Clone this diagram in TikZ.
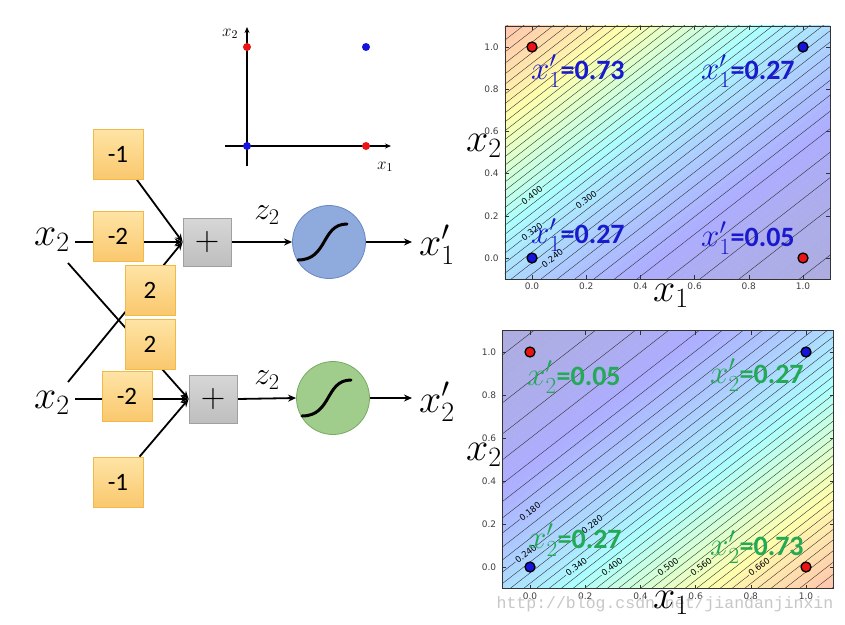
\RequirePackage{fix-cm}
\documentclass[tikz,border=0pt]{standalone}
\usepackage{fontspec}
\newfontfamily\carlito{Carlito}
\newfontfamily\dejavu{DejaVu Sans}
\newfontfamily\monof{Liberation Mono}
\usetikzlibrary{arrows.meta,backgrounds}

\definecolor{qblue}{RGB}{25,25,205}
\definecolor{qgreen}{RGB}{35,170,85}
\definecolor{boxtop}{RGB}{254,228,165}
\definecolor{boxbot}{RGB}{250,200,110}
\definecolor{boxedge}{RGB}{242,185,70}
\definecolor{plustop}{RGB}{215,215,215}
\definecolor{plusbot}{RGB}{190,190,190}
\definecolor{plusedge}{RGB}{160,160,160}
\definecolor{sigblue}{RGB}{143,170,220}
\definecolor{sigblueedge}{RGB}{105,135,195}
\definecolor{siggreen}{RGB}{160,205,140}
\definecolor{siggreenedge}{RGB}{120,170,100}
\definecolor{dotred}{RGB}{235,20,20}
\definecolor{dotblue}{RGB}{20,20,220}

\newcommand\setjet[2]{%
  \pgfmathsetmacro\jt{max(0,min(1,#1))}%
  \pgfmathsetmacro\cR{1-0.32*(1-max(0,min(1,1.5-abs(4*\jt-3))))}%
  \pgfmathsetmacro\cG{1-0.32*(1-max(0,min(1,1.5-abs(4*\jt-2))))}%
  \pgfmathsetmacro\cB{1-0.32*(1-max(0,min(1,1.5-abs(4*\jt-1))))}%
  \definecolor{#2}{rgb}{\cR,\cG,\cB}}

\newcommand\jetplot[2]{%
  \begin{scope}
    \clip (-0.1,-0.1) rectangle (1.1,1.1);
    \foreach \k in {0,...,79}{%
      \pgfmathsetmacro\ua{-1.3+\k*0.0325}%
      \pgfmathsetmacro\um{\ua+0.01625}%
      \pgfmathsetmacro\vv{1/(1+exp(1-2*(\um)))}%
      \setjet{\vv}{stripc}%
      \pgfmathsetmacro\yaL{-2+(#1)*(\ua)}%
      \pgfmathsetmacro\yaR{3+(#1)*(\ua)}%
      \pgfmathsetmacro\ybL{-2+(#1)*(\ua+0.034)}%
      \pgfmathsetmacro\ybR{3+(#1)*(\ua+0.034)}%
      \fill[stripc] (-2,\yaL) -- (3,\yaR) -- (3,\ybR) -- (-2,\ybL) -- cycle;
    }
    \foreach \i in {2,...,40}{%
      \pgfmathsetmacro\lu{(#1)*(ln(\i/(50-\i))+1)/2}%
      \pgfmathsetmacro\lL{-2+\lu}%
      \pgfmathsetmacro\lR{3+\lu}%
      \draw[cline] (-2,\lL) -- (3,\lR);
    }
  \end{scope}
  \draw[pframe] (-0.1,-0.1) rectangle (1.1,1.1);
  \foreach \i/\l in {0/0.0,1/0.2,2/0.4,3/0.6,4/0.8,5/1.0}{%
    \draw[ptick] (\i*0.2,-0.1) -- ++(0pt,4pt);
    \draw[ptick] (\i*0.2,1.1) -- ++(0pt,-4pt);
    \draw[ptick] (-0.1,\i*0.2) -- ++(4pt,0pt);
    \draw[ptick] (1.1,\i*0.2) -- ++(-4pt,0pt);
    \node[tickl, anchor=north, yshift=-4pt] (#2tx\i) at (\i*0.2,-0.1) {\l};
    \node[tickl, anchor=east, xshift=-6pt] (#2ty\i) at (-0.1,\i*0.2) {\l};
  }
  \node[dot, fill=dotred] (#2d01) at (0,1) {};
  \node[dot, fill=dotblue] (#2d11) at (1,1) {};
  \node[dot, fill=dotblue] (#2d00) at (0,0) {};
  \node[dot, fill=dotred] (#2d10) at (1,0) {};
}

\begin{document}
\begin{tikzpicture}[x=1pt,y=-1pt,
  wbox/.style={draw=boxedge, line width=0.8pt, top color=boxtop, bottom color=boxbot,
    minimum size=50pt, inner sep=0pt, font=\fontsize{25}{25}\selectfont\carlito},
  plusbox/.style={draw=plusedge, line width=0.8pt, top color=plustop, bottom color=plusbot,
    minimum size=48pt, inner sep=0pt, font=\fontsize{34}{34}\selectfont},
  neuron/.style={circle, minimum size=73pt, inner sep=0pt, line width=0.8pt},
  conn/.style={line width=1.8pt},
  arr/.style={conn, -{Stealth[length=8pt,width=7pt]}},
  biglab/.style={inner sep=0pt, font=\fontsize{40}{40}\selectfont},
  zlab/.style={inner sep=0pt, font=\fontsize{32}{32}\selectfont},
  sig/.style={line width=3pt, line cap=round},
  axisarr/.style={line width=1.3pt, -{Stealth[length=6pt,width=5pt]}},
  smalldot/.style={circle, inner sep=0pt, minimum size=8pt},
  dot/.style={circle, draw=black, line width=1.3pt, inner sep=0pt, minimum size=10pt},
  cline/.style={line width=0.35pt, black!85},
  pframe/.style={line width=0.7pt, black!80},
  ptick/.style={line width=0.5pt, black!80},
  tickl/.style={inner sep=0pt, font=\dejavu\fontsize{9}{9}\selectfont, text=black!75},
  clab/.style={inner sep=0.8pt, rotate=38, font=\dejavu\fontsize{8.5}{9}\selectfont},
  qlab/.style={inner sep=0pt, anchor=west},
]
\useasboundingbox (0,0) rectangle (845,624);
\begin{pgfonlayer}{background}
\fill[white] (0,0) rectangle (845,624);
\end{pgfonlayer}

% ---------- small scatter inset ----------
\coordinate (xa0) at (225,146);
\coordinate (xa1) at (391,146);
\coordinate (ya0) at (247,166);
\coordinate (ya1) at (247,27);
\draw[axisarr] (xa0) -- (xa1);
\draw[axisarr] (ya0) -- (ya1);
\node[smalldot, fill=dotred] (s01) at (247,47) {};
\node[smalldot, fill=dotblue] (s11) at (366,47) {};
\node[smalldot, fill=dotblue] (s00) at (247,146) {};
\node[smalldot, fill=dotred] (s10) at (366,146) {};
\node[inner sep=0pt, font=\fontsize{17}{17}\selectfont] (sx2) at (230,34) {$x_2$};
\node[inner sep=0pt, font=\fontsize{17}{17}\selectfont] (sx1) at (385,167) {$x_1$};

% ---------- network ----------
\node[biglab] (x2a) at (52,240) {$x_2$};
\node[biglab] (x2b) at (52,403) {$x_2$};
\coordinate (x2aD) at (68,263);
\coordinate (x2bD) at (68,382);

\node[wbox] (wA1) at (118,154) {-1};
\node[wbox] (wA2) at (118,236) {-2};
\node[wbox] (wA3) at (150,290) {2};
\node[wbox] (wB3) at (150,344) {2};
\node[wbox] (wB2) at (127,396) {-2};
\node[wbox] (wB1) at (118,482) {-1};

\node[plusbox] (plusA) at (207,242) {$+$};
\node[plusbox] (plusB) at (213,399) {$+$};

\node[neuron, draw=sigblueedge, fill=sigblue] (sigA) at (329,242) {};
\node[neuron, draw=siggreenedge, fill=siggreen] (sigB) at (333,398) {};
\draw[sig] ([shift={(-31,18)}]sigA.center) .. controls +(30,0) and +(-26,0) .. ([shift={(18,-18)}]sigA.center);
\draw[sig] ([shift={(-31,18)}]sigB.center) .. controls +(30,0) and +(-26,0) .. ([shift={(18,-18)}]sigB.center);

\node[zlab] (zA) at (267,215) {$z_2$};
\node[zlab] (zB) at (267,380) {$z_2$};
\node[biglab, anchor=west] (outA) at (419,245) {$x'_1$};
\node[biglab, anchor=west] (outB) at (419,402) {$x'_2$};

\begin{pgfonlayer}{background}
  \draw[arr, shorten <=5pt] (x2a.east |- plusA.west) -- (plusA.west);
  \draw[arr, shorten <=5pt] (x2b.east |- plusB.west) -- (plusB.west);
  \draw[arr] (wA1) -- (plusA.west);
  \draw[arr] (x2bD) -- (plusA.west);
  \draw[arr] (x2aD) -- (plusB.west);
  \draw[arr] (wB1) -- (plusB.west);
  \draw[arr] (plusA.east) -- (sigA.west);
  \draw[arr] (plusB.east) -- (sigB.west);
  \draw[arr, shorten >=7pt] (sigA.east) -- (sigA.east -| outA.west);
  \draw[arr, shorten >=7pt] (sigB.east) -- (sigB.east -| outB.west);
\end{pgfonlayer}

% ---------- upper contour plot ----------
\begin{scope}[shift={(532,258)}, x={(271pt,0pt)}, y={(0pt,211pt)}]
  \jetplot{1}{T}
  \setjet{0.40}{lcA}\node[clab, fill=lcA] (Tc400) at (0.0,0.297) {0.400};
  \setjet{0.30}{lcB}\node[clab, fill=lcB] (Tc300) at (0.2,0.276) {0.300};
  \setjet{0.32}{lcC}\node[clab, fill=lcC] (Tc320) at (0.0,0.123) {0.320};
  \setjet{0.24}{lcD}\node[clab, fill=lcD] (Tc240) at (0.075,-0.001) {0.240};
\end{scope}

% ---------- lower contour plot ----------
\begin{scope}[shift={(530,567)}, x={(276pt,0pt)}, y={(0pt,215pt)}]
  \jetplot{-1}{B}
  \setjet{0.18}{lcE}\node[clab, fill=lcE] (Bc180) at (0.0,0.258) {0.180};
  \setjet{0.28}{lcF}\node[clab, fill=lcF] (Bc280) at (0.225,0.197) {0.280};
  \setjet{0.24}{lcG}\node[clab, fill=lcG] (Bc240) at (-0.015,0.061) {0.240};
  \setjet{0.34}{lcH}\node[clab, fill=lcH] (Bc340) at (0.168,0.0) {0.340};
  \setjet{0.40}{lcI}\node[clab, fill=lcI] (Bc400) at (0.297,0.0) {0.400};
  \setjet{0.50}{lcJ}\node[clab, fill=lcJ] (Bc500) at (0.5,0.0) {0.500};
  \setjet{0.56}{lcK}\node[clab, fill=lcK] (Bc560) at (0.62,0.0) {0.560};
  \setjet{0.66}{lcL}\node[clab, fill=lcL] (Bc660) at (0.83,0.0) {0.660};
\end{scope}

% ---------- quadrant labels ----------
\newcommand\qtext[2]{{\fontsize{33}{33}\selectfont$x'_{#1}$}{\carlito\bfseries\fontsize{28}{28}\selectfont=#2}}
\node[qlab, text=qblue] (q1a) at (531,71) {\qtext{1}{0.73}};
\node[qlab, text=qblue] (q1b) at (701,71) {\qtext{1}{0.27}};
\node[qlab, text=qblue] (q1c) at (531,235) {\qtext{1}{0.27}};
\node[qlab, text=qblue] (q1d) at (701,238) {\qtext{1}{0.05}};
\node[qlab, text=qgreen] (q2a) at (527,377) {\qtext{2}{0.05}};
\node[qlab, text=qgreen] (q2b) at (710,375) {\qtext{2}{0.27}};
\node[qlab, text=qgreen] (q2c) at (528,540) {\qtext{2}{0.27}};
\node[qlab, text=qgreen] (q2d) at (710,547) {\qtext{2}{0.73}};

% ---------- watermark & axis labels ----------
\node[inner sep=0pt, text=black!22, font=\monof\fontsize{16.5}{17}\selectfont] (wm) at (665,604) {http://blog.csdn.net/jiandanjinxin};
\node[biglab] (pAx1) at (671,296) {$x_1$};
\node[biglab] (pAx2) at (484,146) {$x_2$};
\node[biglab] (pBx1) at (671,603) {$x_1$};
\node[biglab] (pBx2) at (484,455) {$x_2$};
\end{tikzpicture}
\end{document}
